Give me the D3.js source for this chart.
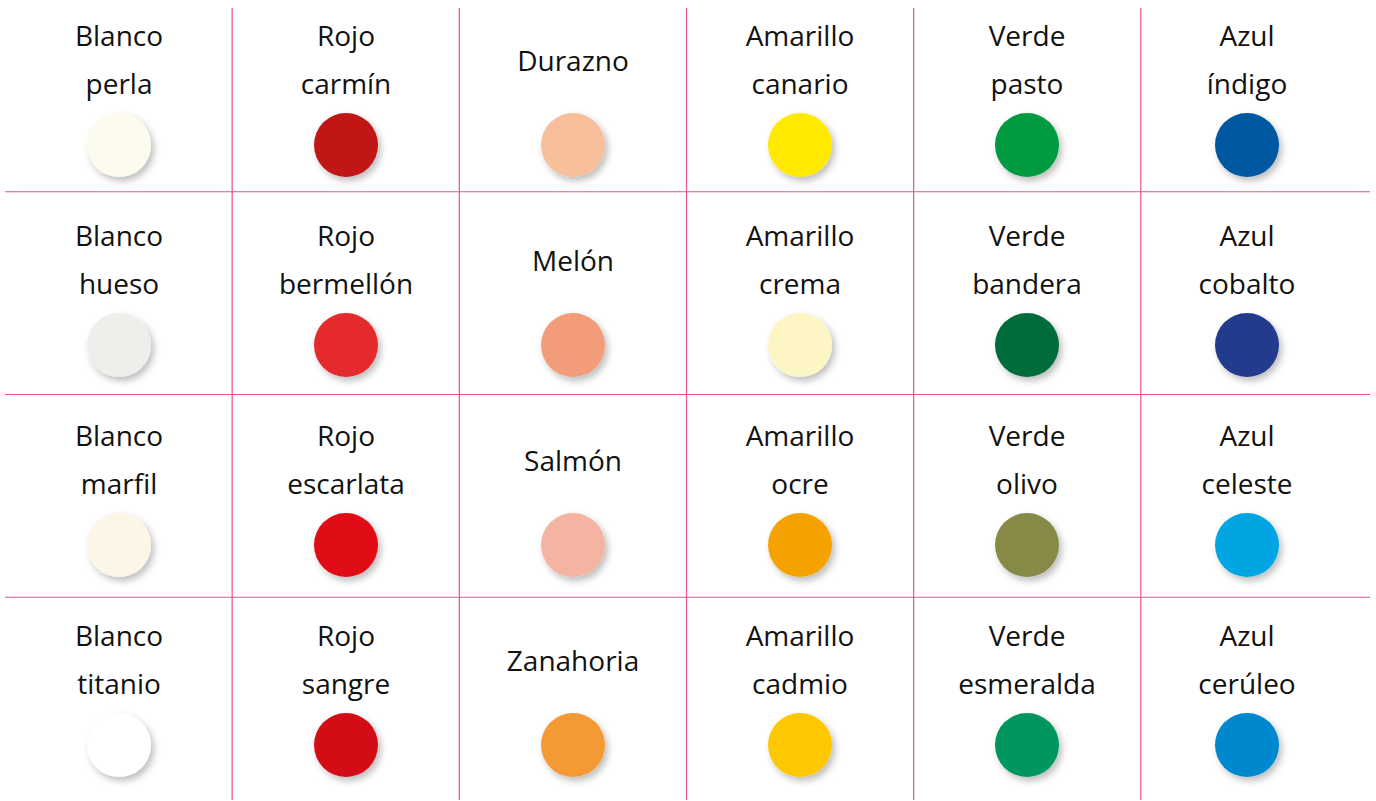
<!DOCTYPE html>
<html>
<head>
<meta charset="utf-8">
<script src="https://cdn.jsdelivr.net/npm/d3@7"></script>
<style>
html,body{margin:0;padding:0;background:#fff;}
svg{display:block;}
</style>
</head>
<body>
<svg id="chart" width="1376" height="801"></svg>
<script>
// Data
const columns = ["Blanco", "Rojo", "Naranja", "Amarillo", "Verde", "Azul"];
const rows = ["r1", "r2", "r3", "r4"];
const labels = [
  ["Blanco perla", "Rojo carmín", "Durazno", "Amarillo canario", "Verde pasto", "Azul índigo"],
  ["Blanco hueso", "Rojo bermellón", "Melón", "Amarillo crema", "Verde bandera", "Azul cobalto"],
  ["Blanco marfil", "Rojo escarlata", "Salmón", "Amarillo ocre", "Verde olivo", "Azul celeste"],
  ["Blanco titanio", "Rojo sangre", "Zanahoria", "Amarillo cadmio", "Verde esmeralda", "Azul cerúleo"]
];
const colors = [
  ["#fdfbee", "#c01517", "#f8bf9c", "#ffea00", "#009a3f", "#0058a3"],
  ["#f0eeeb", "#e52a2d", "#f29c79", "#fdf6c4", "#006c3a", "#233b8c"],
  ["#fbf6e6", "#e10b16", "#f5b3a1", "#f5a200", "#878a47", "#00a5e2"],
  ["#ffffff", "#d31116", "#f39a34", "#fec800", "#00965f", "#0088cf"]
];

const svg = d3.select("#chart");

// Scales
const gridX = d3.scaleBand().domain(columns).range([5, 1368]);
const gridY = d3.scaleBand().domain(rows).range([-11, 800]);
const cx = d3.scaleLinear().domain([0, 4, 5]).range([119, 1027, 1247]);
const cy = d3.scalePoint().domain(rows).range([145, 745]);

const defs = svg.append("defs");
const f = defs.append("filter").attr("id", "shadow")
  .attr("x", "-50%").attr("y", "-50%").attr("width", "200%").attr("height", "200%");
f.append("feDropShadow").attr("dx", 3).attr("dy", 4).attr("stdDeviation", 3.5)
  .attr("flood-color", "#000").attr("flood-opacity", 0.26);

// Grid lines
const lineColor = "#e8557f";
svg.append("g").selectAll("line").data(columns.slice(1)).join("line")
  .attr("x1", d => gridX(d)).attr("x2", d => gridX(d))
  .attr("y1", 8).attr("y2", 800)
  .attr("stroke", lineColor).attr("stroke-width", 1.2);
svg.append("g").selectAll("line").data(rows.slice(1)).join("line")
  .attr("x1", 5).attr("x2", 1370)
  .attr("y1", d => gridY(d)).attr("y2", d => gridY(d))
  .attr("stroke", lineColor).attr("stroke-width", 1.2);

// Cells
const cells = [];
rows.forEach((r, i) => columns.forEach((c, j) => {
  cells.push({row: r, col: j, label: labels[i][j], color: colors[i][j]});
}));

const g = svg.append("g").selectAll("g").data(cells).join("g")
  .attr("transform", d => `translate(${cx(d.col)},${cy(d.row)})`);

g.append("circle").attr("r", 32).attr("fill", d => d.color)
  .attr("filter", "url(#shadow)");

g.each(function(d) {
  const parts = d.label.split(" ");
  const sel = d3.select(this);
  const lines = parts.length > 1 ? [parts[0], parts.slice(1).join(" ")] : parts;
  const ys = lines.length > 1 ? [-99, -51] : [-74];
  lines.forEach((t, k) => {
    sel.append("text").attr("x", 0).attr("y", ys[k])
      .attr("text-anchor", "middle")
      .attr("font-family", "'Open Sans', sans-serif")
      .attr("font-size", 28)
      .attr("fill", "#111")
      .text(t);
  });
});
</script>
</body>
</html>
